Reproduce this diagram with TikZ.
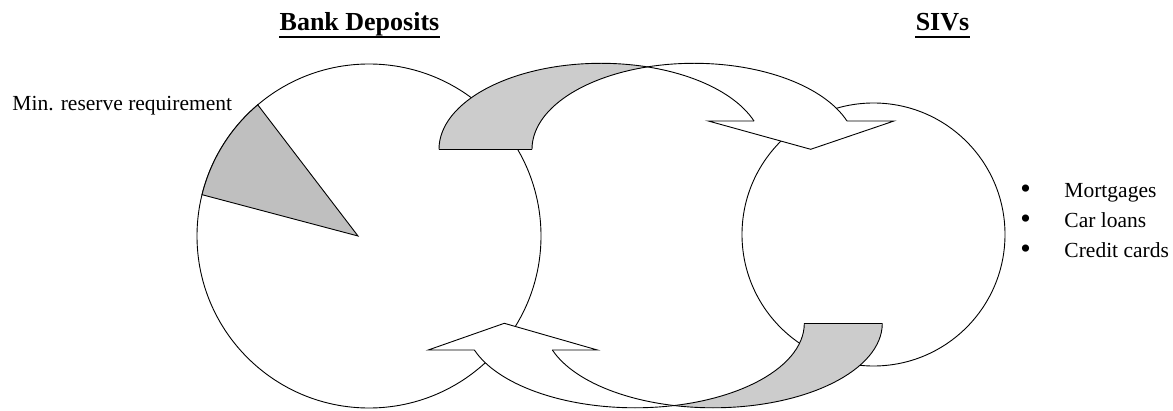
\documentclass[tikz,border=0pt]{standalone}
\usepackage{fontspec}
\setmainfont{Liberation Serif}
\begin{document}
\begin{tikzpicture}[x=1pt,y=1pt,line width=0.9pt,line join=miter,
  outline/.style={draw=black},
  shade/.style={fill=black!20},
  pieshade/.style={fill=black!25},
  lbl/.style={font=\fontsize{21.5}{26}\selectfont, inner sep=0pt},
  bul/.style={font=\fontsize{30}{30}\selectfont, inner sep=0pt},
  ttl/.style={font=\fontsize{26}{30}\selectfont\bfseries, inner sep=0pt},
  uline/.style={line width=2.2pt},
  topell/.style={x radius=162pt, y radius=86pt},
  botell/.style={x radius=169.3pt, y radius=84.5pt}]
\useasboundingbox (0,0) rectangle (1173,410);
\fill[white] (0,0) rectangle (1173,410);

% circles
\node[outline, circle, minimum size=344pt, inner sep=0pt, fill=white] (bank) at (369,174) {};
\node[outline, circle, minimum size=263pt, inner sep=0pt, fill=white] (siv) at (873.5,175.5) {};

% reserve sector
\coordinate (apex) at (358,174);
\draw[pieshade] (apex) -- ([shift={(130.3:172)}]bank.center) arc[start angle=130.3, end angle=166.1, radius=172pt] -- cycle;

% top curved arrow (bank -> SIVs)
\coordinate (tTip) at (810.7,260.7);
\coordinate (tLB) at (708.3,289);
\coordinate (tLN) at (754.0,289);
\coordinate (tRN) at (847.0,289);
\coordinate (tRB) at (894,289);
\coordinate (tO) at (439,260.7);
\coordinate (tI) at (532,260.7);
\coordinate (tX) at (647.55,343.07);
\fill[white] (tTip) -- (tLB) -- (tLN) arc[start angle=19.2, end angle=90, topell] -- (694,346.7) arc[start angle=90, end angle=19.2, topell] -- (tRB) -- cycle;
\fill[shade] (tX) arc[start angle=73.3, end angle=180, topell] -- (tI) arc[start angle=180, end angle=106.7, topell] -- cycle;
\draw (tO) arc[start angle=180, end angle=19.2, topell];
\draw (tI) arc[start angle=180, end angle=19.2, topell];
\draw (tO) -- (tI);
\draw (tLN) -- (tLB) -- (tTip) -- (tRB) -- (tRN);

% bottom curved arrow (SIVs -> bank)
\coordinate (bTip) at (504.3,86.7);
\coordinate (bLB) at (428.3,60.03);
\coordinate (bON) at (474.35,60.03);
\coordinate (bIN) at (552.35,60.03);
\coordinate (bRB) at (597.3,60.03);
\coordinate (bO) at (882.3,86.7);
\coordinate (bI) at (804.3,86.7);
\coordinate (bX) at (674.06,4.46);
\fill[white] (bTip) -- (bRB) -- (bIN) arc[start angle=198.4, end angle=270, botell] -- (635,2.2) arc[start angle=270, end angle=198.4, botell] -- (bLB) -- cycle;
\fill[shade] (bX) arc[start angle=256.7, end angle=360, botell] -- (bI) arc[start angle=0, end angle=-76.7, botell] -- cycle;
\draw (bO) arc[start angle=0, end angle=-161.6, botell];
\draw (bI) arc[start angle=0, end angle=-161.6, botell];
\draw (bO) -- (bI);
\draw (bIN) -- (bRB) -- (bTip) -- (bLB) -- (bON);

% texts
\node[ttl, anchor=base] (tbank) at (359.5,379.3) {Bank Deposits};
\draw[uline] ([yshift=-6.5pt]tbank.base west) -- ([yshift=-6.5pt]tbank.base east);
\node[ttl, anchor=base] (tsiv) at (942.5,379.3) {SIVs};
\draw[uline] ([yshift=-6.5pt]tsiv.base west) -- ([yshift=-6.5pt]tsiv.base east);
\node[lbl, anchor=base west] (tmin) at (12,299) {Min. reserve requirement};
\node[bul, anchor=base] (b1) at (1025.5,211) {•};
\node[bul, anchor=base] (b2) at (1025.5,181) {•};
\node[bul, anchor=base] (b3) at (1025.5,151) {•};
\node[lbl, anchor=base west] (l1) at (1064,212) {Mortgages};
\node[lbl, anchor=base west] (l2) at (1064,182) {Car loans};
\node[lbl, anchor=base west] (l3) at (1064,152) {Credit cards};
\end{tikzpicture}
\end{document}
